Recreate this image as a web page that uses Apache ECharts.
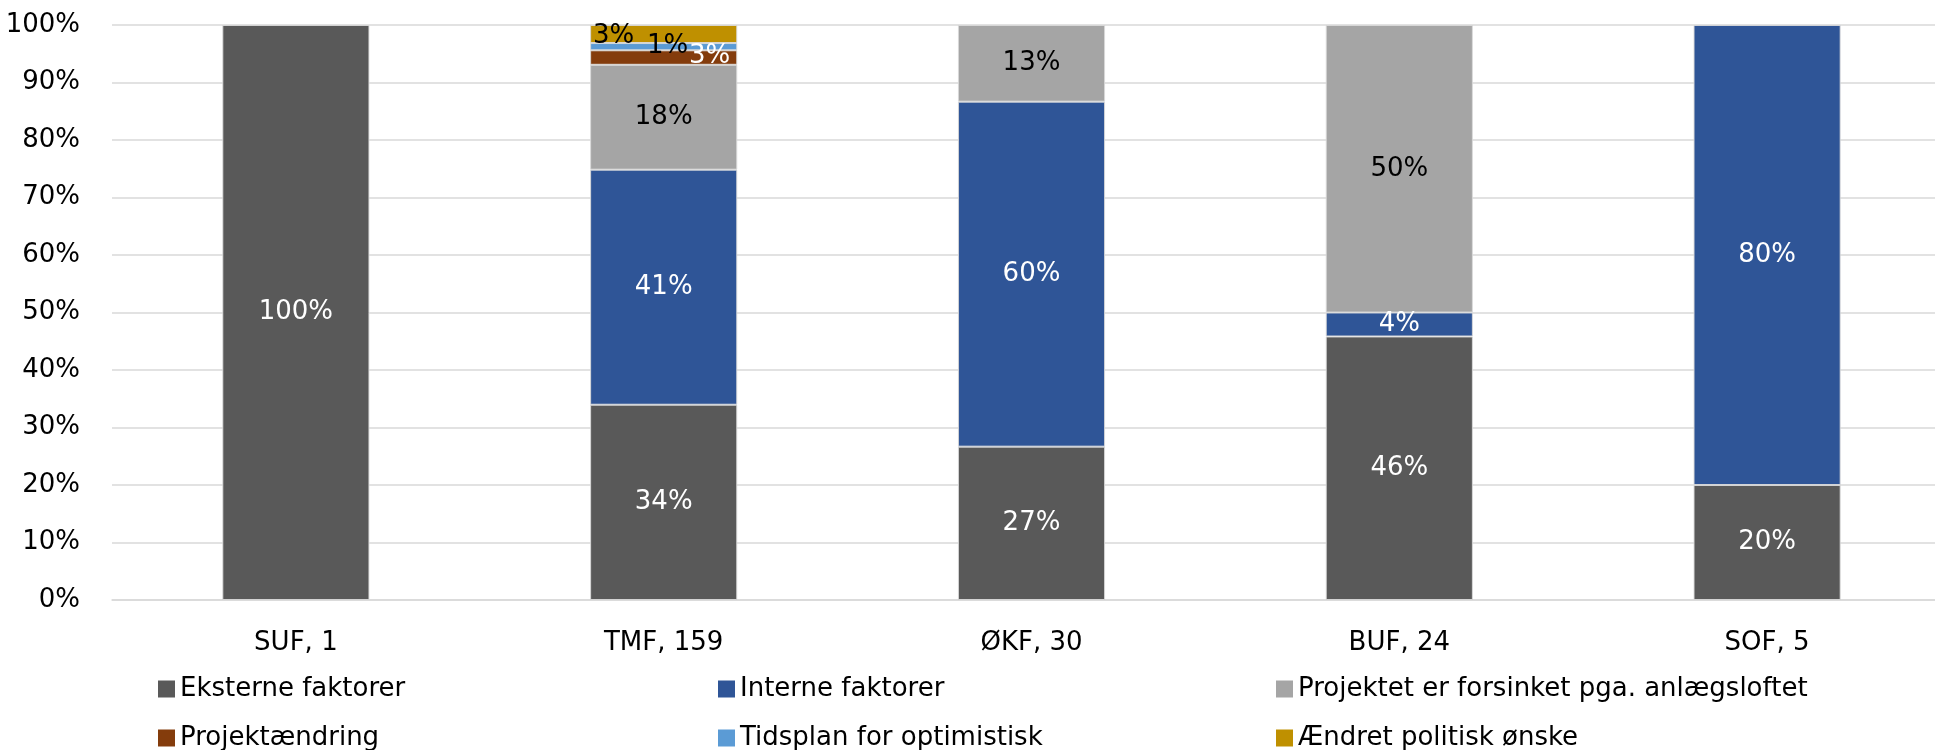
<!DOCTYPE html>
<html>
<head>
<meta charset="utf-8">
<script src="https://cdn.jsdelivr.net/npm/echarts@6/dist/echarts.min.js"></script>
<style>
  html, body { margin: 0; padding: 0; background: #fff; }
  #chart { width: 1935px; height: 750px; }
</style>
</head>
<body>
<div id="chart"></div>
<script>
// Categories (x axis)
const categories = ['SUF, 1', 'TMF, 159', 'ØKF, 30', 'BUF, 24', 'SOF, 5'];

// Series names
const seriesNames = [
  'Eksterne faktorer',
  'Interne faktorer',
  'Projektet er forsinket pga. anlægsloftet',
  'Projektændring',
  'Tidsplan for optimistisk',
  'Ændret politisk ønske'
];

// Series values (percent of projects per category)
const eksterne       = [100, 33.96, 26.67, 45.83, 20];
const interne        = [0,   40.88, 60.00,  4.17, 80];
const anlaegsloft    = [0,   18.24, 13.33, 50.00, 0];
const projektaendr   = [0,    2.52, 0,      0,    0];
const tidsplan       = [0,    1.26, 0,      0,    0];
const politiskOenske = [0,    3.14, 0,      0,    0];

// Y-axis ticks
const yTicks = [0, 10, 20, 30, 40, 50, 60, 70, 80, 90, 100];

const allValues = [eksterne, interne, anlaegsloft, projektaendr, tidsplan, politiskOenske];
const colors = ['#595959', '#2F5597', '#A5A5A5', '#843C0C', '#5B9BD5', '#BF9000'];
const labelColors = ['#ffffff', '#ffffff', '#000000', '#ffffff', '#000000', '#000000'];
// label offsets for crowded small segments (series index -> {category index: [dx, dy]})
const labelOffsets = { 3: {1: [46, -1]}, 4: {1: [4, 0]}, 5: {1: [-50, 2]} };

const FONT = 'DejaVu Sans';
const FS = 26;

const series = allValues.map((vals, si) => ({
  name: seriesNames[si],
  type: 'bar',
  stack: 'total',
  barWidth: '40%',
  itemStyle: { color: colors[si], borderColor: 'rgba(217,217,217,0.9)', borderWidth: 1 },
  label: {
    show: true,
    position: 'inside',
    color: labelColors[si],
    fontFamily: FONT,
    fontSize: FS,
    formatter: p => (p.value ? Math.round(p.value) + '%' : '')
  },
  emphasis: { disabled: true },
  data: vals.map((v, ci) => {
    const off = labelOffsets[si] && labelOffsets[si][ci];
    if (off) return { value: v, label: { offset: off } };
    return v === 0 ? '-' : v;
  })
}));

const legendPos = [
  { left: 158, top: 676 },
  { left: 718, top: 676 },
  { left: 1276, top: 676 },
  { left: 158, top: 725 },
  { left: 718, top: 725 },
  { left: 1276, top: 725 }
];

const legends = seriesNames.map((n, i) => ({
  data: [n],
  left: legendPos[i].left,
  top: legendPos[i].top,
  padding: 0,
  icon: 'rect',
  itemWidth: 17,
  itemHeight: 17,
  selectedMode: false,
  itemStyle: { borderWidth: 0 },
  textStyle: { fontFamily: FONT, fontSize: FS, color: '#000', padding: [0, 0, 0, 0] }
}));

const chart = echarts.init(document.getElementById('chart'));
chart.setOption({
  animation: false,
  backgroundColor: '#ffffff',
  textStyle: { fontFamily: FONT },
  grid: { left: 112, width: 1839, top: 25, bottom: 150, containLabel: false, outerBoundsMode: 'none' },
  legend: legends,
  xAxis: {
    type: 'category',
    data: categories,
    axisLine: { show: true, lineStyle: { color: '#d9d9d9', width: 1.5 } },
    axisTick: { show: false },
    axisLabel: { fontFamily: FONT, fontSize: FS, color: '#000', margin: 30 }
  },
  yAxis: {
    type: 'value',
    min: yTicks[0],
    max: yTicks[yTicks.length - 1],
    interval: yTicks[1] - yTicks[0],
    axisLine: { show: false },
    axisTick: { show: false },
    splitLine: { lineStyle: { color: '#d9d9d9', width: 1.5 } },
    axisLabel: { fontFamily: FONT, fontSize: FS, color: '#000', margin: 32, formatter: '{value}%' }
  },
  series: series
});
</script>
</body>
</html>
